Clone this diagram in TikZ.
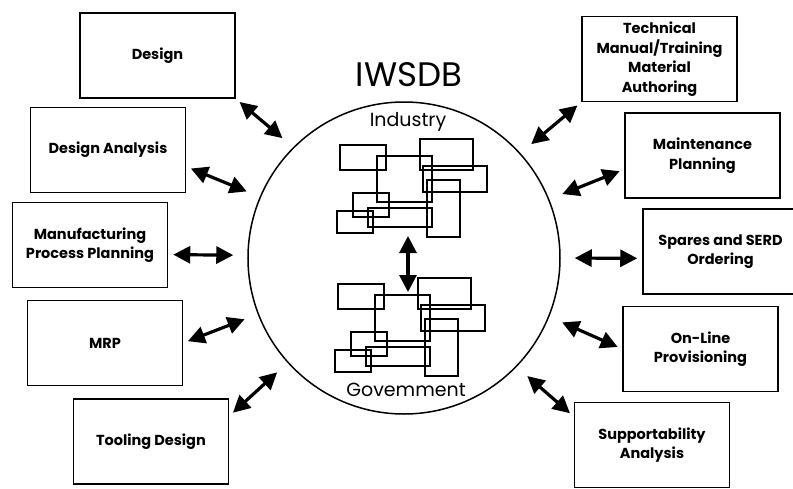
\documentclass[tikz,border=0pt]{standalone}
\usepackage{fontspec}
\setmainfont{Poppins}
\usetikzlibrary{arrows.meta,positioning}

\begin{document}
\begin{tikzpicture}[x=1pt,y=1pt]
  \newcommand{\blockwidth}[0]{155pt}
  \newcommand{\blockheight}[0]{85pt}
  \newcommand{\hubsize}[0]{312pt}
  \newcommand{\dbdrop}[0]{139pt}

  \coordinate (origo) at (0,0);
  \useasboundingbox (-404,-230) rectangle (389,258);

  \tikzstyle{block} = [
    rectangle,
    draw,
    line width=1.5pt,
    anchor=center,
    align=center,
    inner sep=2pt,
    minimum width=\blockwidth,
    minimum height=\blockheight,
    font=\fontsize{14.5}{19.5}\selectfont\bfseries,
  ]
  \tikzstyle{hub} = [
    circle,
    draw,
    line width=1.5pt,
    inner sep=0pt,
    minimum size=\hubsize,
  ]
  \tikzstyle{caption} = [
    anchor=center,
    font=\fontsize{19}{22}\selectfont,
  ]
  \tikzstyle{dbrect} = [
    line width=1.2pt,
  ]
  \tikzstyle{link} = [
    line width=3.2pt,
    arrows={Triangle[length=17pt,width=17pt]-Triangle[length=17pt,width=17pt]},
    shorten <=5pt,
    shorten >=14pt,
  ]

  % hub
  \node[hub] (hub) at (origo) {};
  \node[anchor=center,font=\fontsize{34}{38}\selectfont] (title)
    at ([xshift=5pt,yshift=183pt] origo) {IWSDB};
  \node[caption] (industry) at ([xshift=4pt,yshift=136pt] origo) {Industry};
  \node[caption] (government) at ([xshift=2pt,yshift=-132pt] origo) {Govemment};

  % databases inside the hub
  {
    \coordinate (inddb) at (origo);
    \coordinate (govdb) at ([xshift=-2pt,yshift=-\dbdrop] origo);
    \foreach \base in {inddb,govdb}
      \foreach \xa/\ya/\xb/\yb in {-64/113/-18/88, -27/102/28/56, 16/119/69/88,
                                   19/92/83/66, 23/78/56/21, -51/65/-15/41,
                                   -67/47/-31/25, -36/50/28/31}
        \draw[dbrect] ([shift={(\xa,\ya)}] \base) rectangle ([shift={(\xb,\yb)}] \base);

    \coordinate (indport) at ([xshift=4pt,yshift=22pt] origo);
    \coordinate (govport) at ([xshift=4pt,yshift=-34pt] origo);
    \draw[link,shorten <=0pt,shorten >=0pt] (indport) -- (govport);
  }

  % left column
  {
    \node[block] (design) at ([xshift=-246.5pt,yshift=202.5pt] origo) {Design};
    \node[block] (danalysis) at ([xshift=-296pt,yshift=108pt] origo) {Design Analysis};
    \node[block] (manuf) at ([xshift=-314pt,yshift=13pt] origo)
      {Manufacturing\\Process Planning};
    \node[block] (mrp) at ([xshift=-299pt,yshift=-85pt] origo) {MRP};
    \node[block] (tooling) at ([xshift=-253pt,yshift=-183.5pt] origo) {Tooling Design};

    \draw[link] (design.south east) -- (hub.135);
    \draw[link] (danalysis.-12)     -- (hub.157);
    \draw[link] (manuf.-7)          -- (hub.179);
    \draw[link] (mrp.east)          -- (hub.201);
    \draw[link] (tooling.18)        -- (hub.222);
  }

  % right column
  {
    \node[block] (technical) at ([xshift=255.5pt,yshift=199pt] origo)
      {Technical\\Manual/Training\\Material\\Authoring};
    \node[block] (maint) at ([xshift=298.5pt,yshift=102.5pt] origo)
      {Maintenance\\Planning};
    \node[block] (spares) at ([xshift=316.5pt,yshift=6.5pt] origo)
      {Spares and SERD\\Ordering};
    \node[block] (online) at ([xshift=296.5pt,yshift=-91pt] origo)
      {On-Line\\Provisioning};
    \node[block] (support) at ([xshift=248pt,yshift=-187pt] origo)
      {Supportability\\Analysis};

    \draw[link] (technical.south west) -- (hub.42);
    \draw[link] (maint.190)            -- (hub.22);
    \draw[link] (spares.185)           -- (hub.0);
    \draw[link] (online.west)          -- (hub.-22);
    \draw[link] (support.160)          -- (hub.-44);
  }
\end{tikzpicture}
\end{document}
